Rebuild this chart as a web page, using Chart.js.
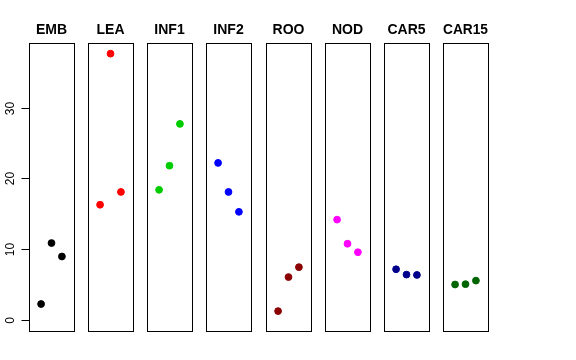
<!DOCTYPE html>
<html>
<head>
<meta charset="utf-8">
<script src="https://cdn.jsdelivr.net/npm/chart.js@4/dist/chart.umd.min.js"></script>
<style>
  body { margin: 0; background: #fff; }
  #wrap { position: relative; width: 576px; height: 360px; }
  #wrap canvas { position: absolute; top: 0; }
</style>
</head>
<body>
<div id="wrap"></div>
<script>
// Donnees
const categories = ['EMB', 'LEA', 'INF1', 'INF2', 'ROO', 'NOD', 'CAR5', 'CAR15'];
const positions = [1, 2, 3];
const emb = [2.3, 10.9, 9.0];
const lea = [16.3, 37.6, 18.1];
const inf1 = [18.4, 21.8, 27.7];
const inf2 = [22.2, 18.1, 15.3];
const roo = [1.3, 6.1, 7.5];
const nod = [14.2, 10.8, 9.6];
const car5 = [7.2, 6.45, 6.4];
const car15 = [5.05, 5.1, 5.6];
const yTicks = [0, 10, 20, 30];
const series = [emb, lea, inf1, inf2, roo, nod, car5, car15];
const couleurs = ['#000000', '#FF0000', '#00CD00', '#0000FF', '#8B0000', '#FF00FF', '#00008B', '#006400'];

// Mise en page des panneaux
const panelLefts = [29, 88, 147, 206, 266, 325, 384, 443];
const panelWidth = 45;
const panelTop = 43;
const panelBottom = 331;
const H = 360;
const PAD = 20;

// Cadre autour de chaque panneau + axe y du premier
const cadrePlugin = {
    id: 'cadre',
    afterDraw(chart) {
        const a = chart.chartArea;
        const ctx = chart.ctx;
        ctx.save();
        ctx.strokeStyle = '#000';
        ctx.lineWidth = 1;
        ctx.strokeRect(Math.round(a.left) + 0.5, Math.round(a.top) + 0.5,
            Math.round(a.right - a.left), Math.round(a.bottom - a.top));
        if (chart.options.plugins.cadre.axe) {
            const y = chart.scales.y;
            const x0 = Math.round(a.left) + 0.5;
            ctx.beginPath();
            ctx.moveTo(x0, Math.round(y.getPixelForValue(yTicks[0])) + 0.5);
            ctx.lineTo(x0, Math.round(y.getPixelForValue(yTicks[yTicks.length - 1])) + 0.5);
            ctx.stroke();
            ctx.font = '12px "Liberation Sans", Arial, sans-serif';
            ctx.fillStyle = '#000';
            ctx.textAlign = 'center';
            ctx.textBaseline = 'middle';
            yTicks.forEach(t => {
                const py = Math.round(y.getPixelForValue(t)) + 0.5;
                ctx.beginPath();
                ctx.moveTo(x0 - 8, py);
                ctx.lineTo(x0, py);
                ctx.stroke();
                ctx.save();
                ctx.translate(x0 - 19, py);
                ctx.rotate(-Math.PI / 2);
                ctx.fillText(String(t), 0, 0);
                ctx.restore();
            });
        }
        ctx.restore();
    }
};

const wrap = document.getElementById('wrap');

categories.forEach((cat, i) => {
    const padLeft = i === 0 ? panelLefts[0] : PAD;
    const canvas = document.createElement('canvas');
    const w = panelWidth + padLeft + PAD;
    canvas.style.left = (panelLefts[i] - padLeft) + 'px';
    canvas.style.width = w + 'px';
    canvas.style.height = H + 'px';
    canvas.width = w;
    canvas.height = H;
    wrap.appendChild(canvas);

    new Chart(canvas, {
        type: 'scatter',
        data: {
            datasets: [{
                data: positions.map((x, k) => ({ x: x, y: series[i][k] })),
                backgroundColor: couleurs[i],
                borderColor: couleurs[i],
                pointRadius: 3.4,
                pointHoverRadius: 3.4
            }]
        },
        options: {
            responsive: false,
            animation: false,
            layout: {
                padding: { left: padLeft, right: PAD, top: 0, bottom: H - panelBottom }
            },
            plugins: {
                legend: { display: false },
                tooltip: { enabled: false },
                title: {
                    display: true,
                    text: cat,
                    color: '#000',
                    font: { family: '"Liberation Sans", Arial, sans-serif', size: 14, weight: 'bold', lineHeight: 1.2 },
                    padding: { top: 22, bottom: panelTop - 22 - 16.8 }
                },
                cadre: { axe: i === 0 }
            },
            scales: {
                x: { type: 'linear', display: false, min: -0.16, max: 4.16 },
                y: { type: 'linear', display: false, min: -1.504, max: 39.104 }
            }
        },
        plugins: [cadrePlugin]
    });
});
</script>
</body>
</html>
